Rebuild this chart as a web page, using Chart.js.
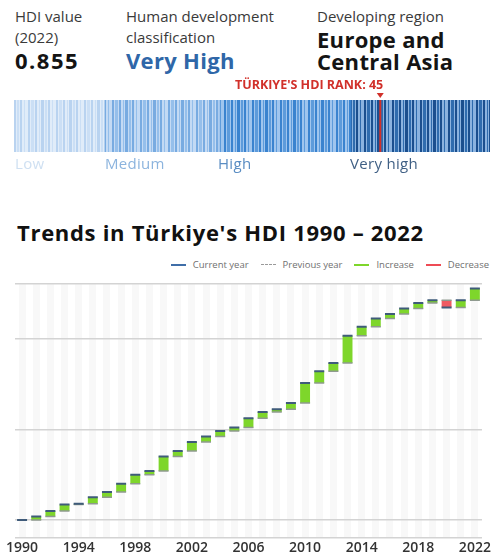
<!DOCTYPE html>
<html lang="en">
<head>
    <meta charset="UTF-8">
    <meta name="viewport" content="width=device-width, initial-scale=1.0">
    <title>Türkiye HDI</title>
    <script src="https://cdn.jsdelivr.net/npm/chart.js"></script>
    <style>
        body {
            margin: 0;
            width: 492px;
            height: 557px;
            overflow: hidden;
            position: relative;
            background: #ffffff;
            font-family: "Open Sans", Arial, sans-serif;
            color: #1a1a1a;
        }
        .t {
            position: absolute;
            white-space: nowrap;
        }
        .lbl {
            font-size: 15px;
            line-height: 21px;
            color: #3a3a3a;
        }
        .big {
            font-size: 22px;
            line-height: 22px;
            font-weight: 700;
            letter-spacing: 0.3px;
            color: #141414;
        }
        .tier {
            font-size: 15px;
            line-height: 18px;
            top: 154px;
            font-weight: 500;
            letter-spacing: 0.3px;
        }
        #title {
            left: 17px;
            top: 218px;
            font-size: 22px;
            line-height: 28px;
            font-weight: 700;
            letter-spacing: 0.7px;
            color: #111;
        }
        #legend {
            position: absolute;
            right: 3px;
            top: 258px;
            display: flex;
            align-items: center;
            font-size: 9.5px;
            color: #707070;
            white-space: nowrap;
        }
        #legend .sw {
            display: inline-block;
            width: 15px;
            height: 0;
            margin: 0 7px 0 12px;
        }
        #strip-wrap {
            position: absolute;
            left: 0;
            top: 76px;
            width: 492px;
            height: 80px;
        }
        #chart-wrap {
            position: absolute;
            left: 0;
            top: 270px;
            width: 492px;
            height: 287px;
        }
    </style>
</head>
<body>
    <div class="t lbl" style="left:15px; top:6px;">HDI value</div>
    <div class="t lbl" style="left:15px; top:27px;">(2022)</div>
    <div class="t big" style="left:15px; top:49px; letter-spacing:1.5px;">0.855</div>

    <div class="t lbl" style="left:126px; top:6px;">Human development</div>
    <div class="t lbl" style="left:126px; top:27px;">classification</div>
    <div class="t big" style="left:126px; top:49px; color:#2f67a8;">Very High</div>

    <div class="t lbl" style="left:317px; top:6px;">Developing region</div>
    <div class="t big" style="left:317px; top:28px;">Europe and</div>
    <div class="t big" style="left:317px; top:50px;">Central Asia</div>

    <div id="strip-wrap"><canvas id="stripChart"></canvas></div>

    <div class="t tier" style="left:15px; color:#cfe0f2;">Low</div>
    <div class="t tier" style="left:105px; color:#8cb4de;">Medium</div>
    <div class="t tier" style="left:218px; color:#5a8dc3;">High</div>
    <div class="t tier" style="left:350px; color:#3f5f84;">Very high</div>

    <div class="t" id="title">Trends in Türkiye's HDI 1990 – 2022</div>

    <div id="legend">
        <span class="sw" style="border-top:2px solid #3f6ea8;"></span>Current year
        <span class="sw" style="border-top:1.5px dashed #9a9a9a;"></span>Previous year
        <span class="sw" style="border-top:2px solid #7ed62b;"></span>Increase
        <span class="sw" style="border-top:2px solid #ee4b55;"></span>Decrease
    </div>

    <div id="chart-wrap"><canvas id="hdiChart"></canvas></div>

    <script>
        // HDI groups along the ranking strip (rank 1 sits on the right)
        const tierNames = ['Very high', 'High', 'Medium', 'Low'];
        const tierCounts = [56, 54, 46, 37];
        const tierColors = [
            ['#1b4f8e', '#2f6cae', '#8bb3df'],
            ['#3a83cf', '#5d9bdb', '#9fc5ee'],
            ['#78abe1', '#95bfeb', '#c3daf4'],
            ['#b9d3f0', '#cbdff5', '#e0ecf9']
        ];
        const hdiRank = 45;

        // yearly HDI values
        const years = ['1990', '1991', '1992', '1993', '1994', '1995', '1996', '1997', '1998', '1999',
            '2000', '2001', '2002', '2003', '2004', '2005', '2006', '2007', '2008', '2009',
            '2010', '2011', '2012', '2013', '2014', '2015', '2016', '2017', '2018', '2019',
            '2020', '2021', '2022'];
        const hdi = [0.600, 0.604, 0.610, 0.617, 0.618, 0.625, 0.631, 0.640, 0.650, 0.654,
            0.670, 0.676, 0.686, 0.692, 0.698, 0.702, 0.712, 0.719, 0.722, 0.729,
            0.751, 0.764, 0.773, 0.803, 0.813, 0.822, 0.827, 0.833, 0.839, 0.842,
            0.834, 0.842, 0.855];
        const yGrid = [0.58, 0.6, 0.7, 0.8, 0.86];

        // thin vertical stripes for each group of the strip
        function stripePattern(cols) {
            const widths = [2, 1, 3, 1, 2, 2, 1, 1, 3, 1, 2, 1, 2, 2, 1, 3];
            const c = document.createElement('canvas');
            c.width = widths.reduce((a, b) => a + b, 0);
            c.height = 10;
            const g = c.getContext('2d');
            let x = 0;
            widths.forEach((w, i) => {
                g.fillStyle = i % 2 === 0 ? cols[i % 4 === 0 ? 0 : 1] : cols[2];
                g.fillRect(x, 0, w, 10);
                x += w;
            });
            return g.createPattern(c, 'repeat');
        }

        const rankMarker = {
            id: 'rankMarker',
            afterDatasetsDraw(chart) {
                const ctx = chart.ctx;
                const area = chart.chartArea;
                const x = chart.scales.x.getPixelForValue(hdiRank - 0.5);
                ctx.save();
                ctx.strokeStyle = '#d1302a';
                ctx.lineWidth = 2;
                ctx.beginPath();
                ctx.moveTo(x, area.top);
                ctx.lineTo(x, area.bottom);
                ctx.stroke();
                ctx.fillStyle = '#d1302a';
                ctx.beginPath();
                ctx.moveTo(x - 3.5, area.top - 7);
                ctx.lineTo(x + 3.5, area.top - 7);
                ctx.lineTo(x, area.top - 2);
                ctx.closePath();
                ctx.fill();
                ctx.font = 'bold 12.5px "Open Sans", Arial, sans-serif';
                ctx.textAlign = 'right';
                ctx.textBaseline = 'alphabetic';
                ctx.fillText("TÜRKIYE'S HDI RANK: " + hdiRank, x + 3, area.top - 11);
                ctx.restore();
            }
        };

        new Chart(document.getElementById('stripChart'), {
            type: 'bar',
            data: {
                labels: ['Rank'],
                datasets: tierNames.map((name, i) => ({
                    label: name,
                    data: [tierCounts[i]],
                    backgroundColor: stripePattern(tierColors[i]),
                    borderWidth: 0,
                    barPercentage: 1,
                    categoryPercentage: 1
                }))
            },
            options: {
                indexAxis: 'y',
                responsive: true,
                maintainAspectRatio: false,
                animation: false,
                layout: { padding: { left: 14, right: 2, top: 24, bottom: 4 } },
                plugins: { legend: { display: false }, tooltip: { enabled: false } },
                scales: {
                    x: { stacked: true, reverse: true, min: 0, max: 193, display: false },
                    y: { stacked: true, display: false }
                }
            },
            plugins: [rankMarker]
        });

        const changes = hdi.map((v, i) => i === 0 ? null : [hdi[i - 1], v]);
        const previous = hdi.map((v, i) => i === 0 ? null : hdi[i - 1]);

        new Chart(document.getElementById('hdiChart'), {
            type: 'bar',
            data: {
                labels: years,
                datasets: [
                    {
                        label: 'Current year',
                        type: 'line',
                        data: hdi,
                        showLine: false,
                        pointStyle: 'line',
                        pointRadius: 5,
                        pointBorderWidth: 2,
                        pointBorderColor: '#3f5b7a',
                        order: 0
                    },
                    {
                        label: 'Previous year',
                        type: 'line',
                        data: previous,
                        showLine: false,
                        pointStyle: 'line',
                        pointRadius: 5,
                        pointBorderWidth: 1.5,
                        pointBorderColor: '#8f9a8f',
                        order: 1
                    },
                    {
                        label: 'Change',
                        data: changes,
                        backgroundColor: changes.map(d => d && d[1] < d[0] ? '#ef5b63' : '#7ed62b'),
                        borderWidth: 0,
                        barPercentage: 0.7,
                        categoryPercentage: 1,
                        order: 2
                    }
                ]
            },
            options: {
                responsive: true,
                maintainAspectRatio: false,
                animation: false,
                layout: { padding: { left: 15, right: 7, top: 14, bottom: 0 } },
                plugins: { legend: { display: false }, tooltip: { enabled: false } },
                scales: {
                    x: {
                        z: -1,
                        border: { display: false },
                        grid: { offset: false, color: '#f8f8f8', lineWidth: 7, drawTicks: false, tickLength: 0 },
                        ticks: {
                            autoSkip: false,
                            maxRotation: 0,
                            padding: 1,
                            color: '#333',
                            font: { family: '"Open Sans", Arial, sans-serif', size: 14, weight: '600' },
                            callback: (v, i) => i % 4 === 0 ? years[i] : ''
                        }
                    },
                    y: {
                        min: 0.58,
                        max: 0.86,
                        border: { display: false },
                        afterBuildTicks: axis => { axis.ticks = yGrid.map(v => ({ value: v })); },
                        grid: { color: '#d3d3d3', lineWidth: 1.5, drawTicks: false },
                        ticks: { display: false }
                    }
                }
            }
        });
    </script>
</body>
</html>
